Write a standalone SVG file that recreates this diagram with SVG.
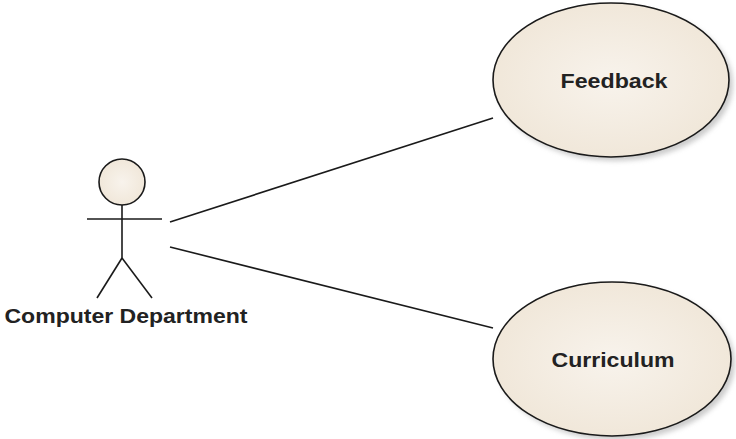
<svg xmlns="http://www.w3.org/2000/svg" width="736" height="439" viewBox="0 0 736 439">
  <defs>
    <radialGradient id="fill" cx="0.5" cy="0.5" r="0.6">
      <stop offset="0" stop-color="#f8f3ec"/>
      <stop offset="1" stop-color="#efe5d6"/>
    </radialGradient>
    <filter id="shadow" x="-10%" y="-10%" width="130%" height="130%">
      <feGaussianBlur stdDeviation="2.5"/>
    </filter>
    <style>
      .uc { fill: url(#fill); stroke: #1a1a1a; stroke-width: 1.6; }
      .sh { fill: #9a9a9a; opacity: 0.5; filter: url(#shadow); }
      .stk { stroke: #1a1a1a; stroke-width: 1.6; fill: none; }
      .lbl { font-family: "Liberation Sans", Arial, sans-serif; fill: #222; font-weight: bold; }
      .conn { stroke: #1a1a1a; stroke-width: 1.6; fill: none; }
    </style>
  </defs>
  <rect width="736" height="439" fill="#ffffff"/>

  <g id="actor-computer-department">
    <circle cx="122" cy="182" r="23" fill="url(#fill)" stroke="#1a1a1a" stroke-width="1.6"/>
    <line class="stk" x1="122" y1="205" x2="122" y2="258"/>
    <line class="stk" x1="87" y1="219" x2="162" y2="219"/>
    <line class="stk" x1="122" y1="258" x2="97" y2="298"/>
    <line class="stk" x1="122" y1="258" x2="152" y2="298"/>
    <text class="lbl" x="126" y="323" font-size="20" text-anchor="middle" textLength="243" lengthAdjust="spacingAndGlyphs">Computer Department</text>
  </g>

  <g id="usecase-feedback">
    <ellipse class="sh" cx="615" cy="84" rx="118" ry="77"/>
    <ellipse class="uc" cx="611" cy="80" rx="118" ry="77"/>
    <text class="lbl" x="614" y="88" font-size="20" text-anchor="middle" textLength="107" lengthAdjust="spacingAndGlyphs">Feedback</text>
  </g>

  <g id="usecase-curriculum">
    <ellipse class="sh" cx="616" cy="363" rx="119" ry="77"/>
    <ellipse class="uc" cx="612" cy="359" rx="119" ry="77"/>
    <text class="lbl" x="613" y="367" font-size="20" text-anchor="middle" textLength="123" lengthAdjust="spacingAndGlyphs">Curriculum</text>
  </g>

  <g id="connectors">
    <line class="conn" x1="170" y1="222" x2="493" y2="118"/>
    <line class="conn" x1="170" y1="247" x2="493" y2="328"/>
  </g>
</svg>
